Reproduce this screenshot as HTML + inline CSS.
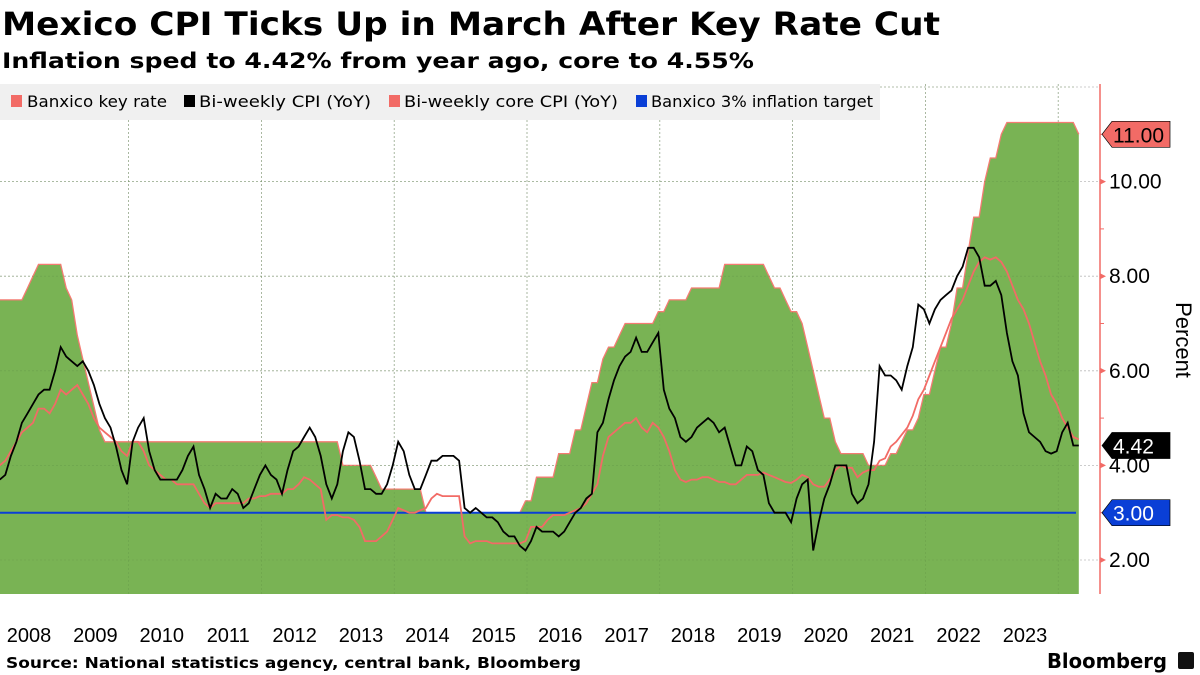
<!DOCTYPE html>
<html><head><meta charset="utf-8"><style>
body{margin:0;background:#fff;width:1200px;height:675px;overflow:hidden;font-family:"Liberation Sans","DejaVu Sans",sans-serif}
svg{display:block}
</style></head><body>
<svg id="chart" width="1200" height="675" viewBox="0 0 1200 675" xmlns="http://www.w3.org/2000/svg">
<text x="2" y="35" font-family="DejaVu Sans, sans-serif" font-weight="bold" font-size="32" textLength="938" lengthAdjust="spacingAndGlyphs">Mexico CPI Ticks Up in March After Key Rate Cut</text>
<text x="2" y="68" font-family="DejaVu Sans, sans-serif" font-weight="bold" font-size="21" textLength="752" lengthAdjust="spacingAndGlyphs">Inflation sped to 4.42% from year ago, core to 4.55%</text>
<g id="grid"></g>
<g id="marks"></g>
<rect x="0" y="84" width="880" height="36" fill="#f0f0f0"/>
<g font-size="16" font-family="DejaVu Sans, sans-serif">
 <g><rect x="11" y="95" width="11" height="12" fill="#f26b66"/><text x="27" y="107" textLength="140" lengthAdjust="spacingAndGlyphs">Banxico key rate</text></g>
 <g><rect x="184" y="95" width="11" height="12" fill="#000"/><text x="199" y="107" textLength="172" lengthAdjust="spacingAndGlyphs">Bi-weekly CPI (YoY)</text></g>
 <g><rect x="389" y="95" width="11" height="12" fill="#f26b66"/><text x="404" y="107" textLength="214" lengthAdjust="spacingAndGlyphs">Bi-weekly core CPI (YoY)</text></g>
 <g><rect x="636" y="95" width="11" height="12" fill="#0a3fd6"/><text x="651" y="107" textLength="222" lengthAdjust="spacingAndGlyphs">Banxico 3% inflation target</text></g>
</g>
<g id="axis"></g>
<g id="xaxis"></g>
<text transform="translate(1176,340) rotate(90)" text-anchor="middle" font-size="22">Percent</text>
<text x="6" y="668" font-family="DejaVu Sans, sans-serif" font-weight="bold" font-size="15" textLength="575" lengthAdjust="spacingAndGlyphs">Source: National statistics agency, central bank, Bloomberg</text>
<g><text x="1047" y="668" font-family="DejaVu Sans, sans-serif" font-weight="bold" font-size="20" textLength="120" lengthAdjust="spacingAndGlyphs">Bloomberg</text><rect x="1178" y="652" width="16" height="17" rx="2" fill="#111"/></g>
</svg>
<script>
const startYear = 2008;
const keyRate = [
7.5,7.5,7.5,7.5,7.5,7.75,8.0,8.25,8.25,8.25,8.25,8.25,
7.75,7.5,6.75,6.25,5.75,5.25,4.75,4.5,4.5,4.5,4.5,4.5,
4.5,4.5,4.5,4.5,4.5,4.5,4.5,4.5,4.5,4.5,4.5,4.5,
4.5,4.5,4.5,4.5,4.5,4.5,4.5,4.5,4.5,4.5,4.5,4.5,
4.5,4.5,4.5,4.5,4.5,4.5,4.5,4.5,4.5,4.5,4.5,4.5,
4.5,4.5,4.0,4.0,4.0,4.0,4.0,4.0,3.75,3.5,3.5,3.5,
3.5,3.5,3.5,3.5,3.5,3.0,3.0,3.0,3.0,3.0,3.0,3.0,
3.0,3.0,3.0,3.0,3.0,3.0,3.0,3.0,3.0,3.0,3.0,3.25,
3.25,3.75,3.75,3.75,3.75,4.25,4.25,4.25,4.75,4.75,5.25,5.75,
5.75,6.25,6.5,6.5,6.75,7.0,7.0,7.0,7.0,7.0,7.0,7.25,
7.25,7.5,7.5,7.5,7.5,7.75,7.75,7.75,7.75,7.75,7.75,8.25,
8.25,8.25,8.25,8.25,8.25,8.25,8.25,8.0,7.75,7.75,7.5,7.25,
7.25,7.0,6.5,6.0,5.5,5.0,5.0,4.5,4.25,4.25,4.25,4.25,
4.25,4.0,4.0,4.0,4.0,4.25,4.25,4.5,4.75,4.75,5.0,5.5,
5.5,6.0,6.5,6.5,7.0,7.75,7.75,8.5,9.25,9.25,10.0,10.5,
10.5,11.0,11.25,11.25,11.25,11.25,11.25,11.25,11.25,11.25,11.25,11.25,
11.25,11.25,11.25,11.0];
const cpi = [
3.7,3.8,4.2,4.5,4.9,5.1,5.3,5.5,5.6,5.6,6.0,6.5,
6.3,6.2,6.1,6.2,6.0,5.7,5.3,5.0,4.8,4.4,3.9,3.6,
4.5,4.8,5.0,4.3,3.9,3.7,3.7,3.7,3.7,3.9,4.2,4.4,
3.8,3.5,3.1,3.4,3.3,3.3,3.5,3.4,3.1,3.2,3.5,3.8,
4.0,3.8,3.7,3.4,3.9,4.3,4.4,4.6,4.8,4.6,4.2,3.6,
3.3,3.6,4.3,4.7,4.6,4.1,3.5,3.5,3.4,3.4,3.6,4.0,
4.5,4.3,3.8,3.5,3.5,3.8,4.1,4.1,4.2,4.2,4.2,4.1,
3.1,3.0,3.1,3.0,2.9,2.9,2.8,2.6,2.5,2.5,2.3,2.2,
2.4,2.7,2.6,2.6,2.6,2.5,2.6,2.8,3.0,3.1,3.3,3.4,
4.7,4.9,5.4,5.8,6.1,6.3,6.4,6.7,6.4,6.4,6.6,6.8,
5.6,5.2,5.0,4.6,4.5,4.6,4.8,4.9,5.0,4.9,4.7,4.8,
4.4,4.0,4.0,4.4,4.3,3.9,3.8,3.2,3.0,3.0,3.0,2.8,
3.3,3.6,3.7,2.2,2.8,3.3,3.6,4.0,4.0,4.0,3.4,3.2,
3.3,3.6,4.5,6.1,5.9,5.9,5.8,5.6,6.1,6.5,7.4,7.3,
7.0,7.3,7.5,7.6,7.7,8.0,8.2,8.6,8.6,8.4,7.8,7.8,
7.9,7.6,6.8,6.2,5.9,5.1,4.7,4.6,4.5,4.3,4.25,4.3,
4.7,4.9,4.42,4.42];
const coreCpi = [
4.0,4.1,4.3,4.5,4.7,4.8,4.9,5.2,5.2,5.1,5.3,5.6,
5.5,5.6,5.7,5.5,5.3,5.0,4.8,4.7,4.6,4.5,4.3,4.2,
4.5,4.5,4.3,4.0,3.9,3.8,3.7,3.7,3.6,3.6,3.6,3.6,
3.4,3.2,3.1,3.2,3.2,3.2,3.2,3.2,3.2,3.3,3.3,3.35,
3.35,3.4,3.4,3.4,3.5,3.5,3.6,3.75,3.7,3.6,3.5,2.85,
2.95,2.95,2.9,2.9,2.85,2.7,2.4,2.4,2.4,2.5,2.6,2.85,
3.1,3.05,3.0,3.0,3.05,3.1,3.3,3.4,3.35,3.35,3.35,3.35,
2.5,2.35,2.4,2.4,2.4,2.35,2.35,2.35,2.35,2.35,2.35,2.4,
2.7,2.7,2.7,2.85,2.95,2.95,2.95,3.0,3.05,3.1,3.2,3.4,
3.6,4.2,4.6,4.7,4.8,4.9,4.9,5.0,4.8,4.7,4.9,4.8,
4.6,4.3,3.9,3.7,3.65,3.7,3.7,3.75,3.75,3.7,3.65,3.65,
3.6,3.6,3.7,3.8,3.8,3.8,3.85,3.8,3.75,3.7,3.65,3.63,
3.7,3.8,3.75,3.6,3.55,3.55,3.7,3.9,4.0,3.95,3.95,3.75,
3.85,3.9,3.9,4.1,4.15,4.4,4.5,4.65,4.8,5.05,5.4,5.6,
5.9,6.2,6.5,6.8,7.1,7.3,7.5,7.8,8.1,8.3,8.4,8.35,
8.4,8.3,8.1,7.8,7.5,7.3,7.0,6.6,6.2,5.9,5.5,5.3,
5.0,4.8,4.6,4.55];
const targetValue = 3.0;
const yTicks = [2,4,6,8,10];
const yGrid = [2,4,6,8,10,12];
const yMinor = [3,5,7,9,11];
const yearLabels = ['2008','2009','2010','2011','2012','2013','2014','2015','2016','2017','2018','2019','2020','2021','2022','2023'];
const gridYears = [2010,2012,2014,2016,2018,2020,2022,2024];

const NS='http://www.w3.org/2000/svg';
function x(t){return 128.6+(t-2010)*66.4;}
function y(v){return 560-(v-2)*47.3;}
function tOf(i){return startYear+0.06+i/12;}
function mk(tag,attrs,parent){const e=document.createElementNS(NS,tag);for(const k in attrs)e.setAttribute(k,attrs[k]);parent.appendChild(e);return e;}
const grid=document.getElementById('grid'),marks=document.getElementById('marks'),axis=document.getElementById('axis'),xaxis=document.getElementById('xaxis');
const plotBottom=594,plotRight=1076,axisX=1100;

function pts(arr){return arr.map((v,i)=>x(tOf(i)).toFixed(1)+','+y(v).toFixed(1)).join(' ');}
const n=keyRate.length;
let d='M'+x(tOf(0)).toFixed(1)+','+plotBottom+' L'+pts(keyRate).replace(/ /g,' L')+' L'+x(tOf(n-1)).toFixed(1)+','+plotBottom+' Z';
const area=mk('path',{d:d,fill:'#79b354'},marks);


const rl=mk('polyline',{points:pts(keyRate),fill:'none',stroke:'#f47b72','stroke-width':1.3},marks);



yGrid.forEach(v=>{
  const l=mk('line',{x1:0,x2:axisX,y1:y(v),y2:y(v),stroke:'#aaa','stroke-width':0.8,'stroke-dasharray':'2,2',opacity:0.8},grid);
  
  
});
gridYears.forEach(t=>{
  const l=mk('line',{x1:x(t),x2:x(t),y1:84,y2:plotBottom,stroke:'#aaa','stroke-width':0.8,'stroke-dasharray':'2,2',opacity:0.8},grid);
  
  
});
yGrid.forEach(v=>{
  const l=mk('line',{x1:0,x2:plotRight,y1:y(v),y2:y(v),stroke:'#5f8f45','stroke-width':0.6,'stroke-dasharray':'2,2',opacity:0.5},marks);
  
  
});
gridYears.forEach(t=>{
  const l=mk('line',{x1:x(t),x2:x(t),y1:84,y2:plotBottom,stroke:'#5f8f45','stroke-width':0.6,'stroke-dasharray':'2,2',opacity:0.5},marks);
  
  
});

const tl=mk('line',{x1:0,x2:plotRight,y1:y(targetValue),y2:y(targetValue),stroke:'#0a3fd6','stroke-width':2},marks);


const cl=mk('polyline',{points:pts(coreCpi),fill:'none',stroke:'#f26b66','stroke-width':1.8},marks);


const hl=mk('polyline',{points:pts(cpi),fill:'none',stroke:'#000','stroke-width':1.8},marks);



const al=mk('line',{x1:axisX,x2:axisX,y1:84,y2:plotBottom,stroke:'#f26b66','stroke-width':1.5},axis);


yTicks.forEach(v=>{
  const p=mk('path',{d:`M${axisX},${y(v)-3} L${axisX+6},${y(v)} L${axisX},${y(v)+3}Z`,fill:'#f26b66'},axis);
  
  
  const t=mk('text',{x:axisX+9,y:y(v)+7,'font-size':21,fill:'#000'},axis);
  t.textContent=v.toFixed(2);
  
  
});
yMinor.forEach(v=>{
  const l=mk('line',{x1:axisX,x2:axisX+4,y1:y(v),y2:y(v),stroke:'#f26b66','stroke-width':1},axis);
  
  
});
function flag(v,bg,fg,label,name){
  const yy=y(v);
  const g=mk('g',{},axis);
  
  
  mk('path',{d:`M${axisX+2},${yy} L${axisX+12},${yy-13} L${axisX+70},${yy-13} L${axisX+70},${yy+13} L${axisX+12},${yy+13}Z`,fill:bg,stroke:'#000','stroke-width':0.7},g);
  const t=mk('text',{x:axisX+13,y:yy+8,'font-size':21,fill:fg},g);
  t.textContent=label;
}
flag(keyRate[n-1],'#f26b66','#000',keyRate[n-1].toFixed(2),'key-rate-flag');
flag(cpi[cpi.length-1],'#000','#fff',cpi[cpi.length-1].toFixed(2),'cpi-flag');
flag(targetValue,'#0a3fd6','#fff',targetValue.toFixed(2),'target-flag');

yearLabels.forEach(s=>{
  const t=mk('text',{x:x(+s+0.5),y:642,'font-size':20,'text-anchor':'middle',fill:'#000'},xaxis);
  t.textContent=s;
  
  
});
</script>
</body></html>
